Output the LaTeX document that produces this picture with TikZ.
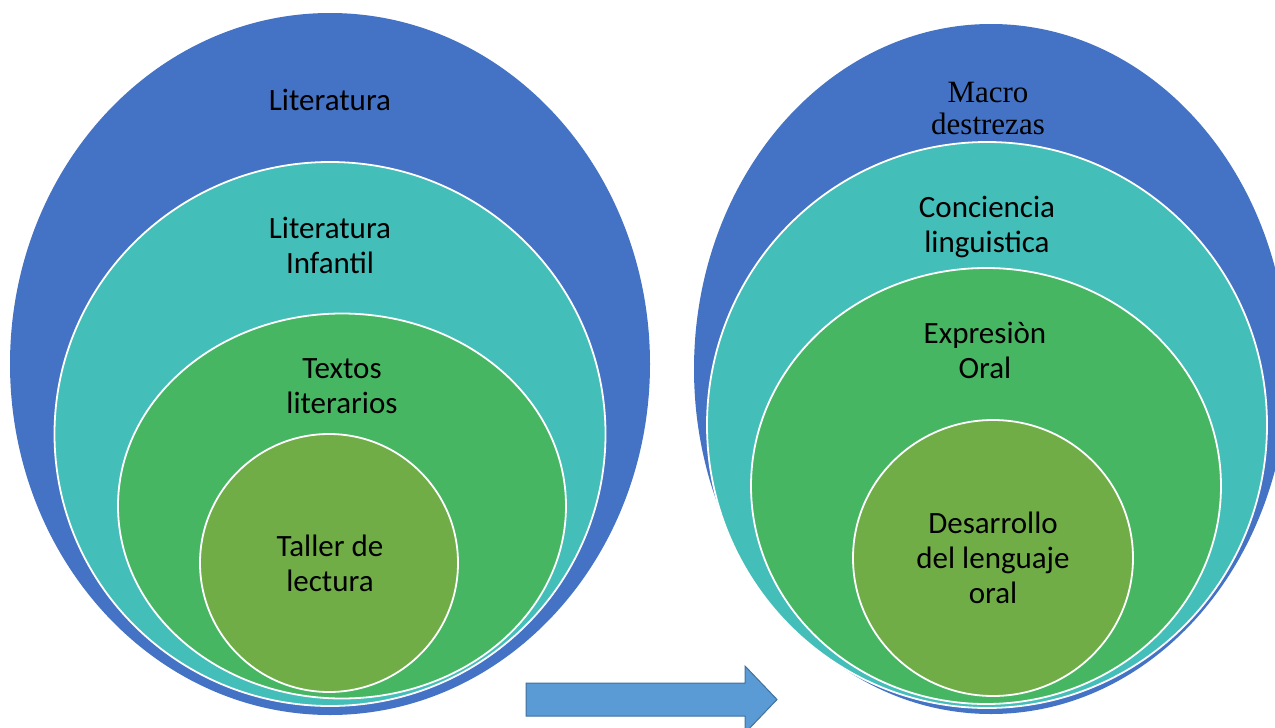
\documentclass[tikz,border=0pt]{standalone}
\usepackage{fontspec}
\setmainfont{Carlito}
\newfontfamily\timesfont{Liberation Serif}
\usetikzlibrary{shapes.geometric}
\definecolor{cblue}{HTML}{4472C4}
\definecolor{cteal}{HTML}{43BEB8}
\definecolor{cgreen}{HTML}{47B663}
\definecolor{clime}{HTML}{70AD47}
\definecolor{carrow}{HTML}{5B9BD5}
\definecolor{carrowb}{HTML}{41719C}
\tikzset{
  ring/.style={ellipse, inner sep=0pt, outer sep=0pt},
  outerring/.style={ring, fill=cblue},
  innerring/.style={ring, draw=white, line width=1.8pt},
  lbl/.style={align=center, font=\fontsize{31}{35}\selectfont, inner sep=0pt},
}
\begin{document}
\begin{tikzpicture}[x=1pt,y=-1pt]
\useasboundingbox[fill=white] (0,0) rectangle (1275,728);
% left set
\node[outerring, minimum width=640pt, minimum height=702pt] (L1) at (330,364) {};
\node[innerring, fill=cteal, minimum width=551pt, minimum height=544pt] (L2) at (330,434) {};
\node[innerring, fill=cgreen, minimum width=448pt, minimum height=385pt] (L3) at (342,506) {};
\node[innerring, fill=clime, minimum width=258pt, minimum height=258pt] (L4) at (329,563) {};
\node[lbl] (tL1) at (330,100) {Literatura};
\node[lbl] (tL2) at (330,245) {Literatura\\Infantil};
\node[lbl] (tL3) at (342,386) {Textos\\literarios};
\node[lbl] (tL4) at (330,563) {Taller de\\lectura};
% right set
\node[outerring, minimum width=594pt, minimum height=690pt] (R1) at (991,369) {};
\node[innerring, fill=cteal, minimum width=560pt, minimum height=566pt] (R2) at (987,425) {};
\node[innerring, fill=cgreen, minimum width=470pt, minimum height=436pt] (R3) at (986,486) {};
\node[innerring, fill=clime, minimum width=280pt, minimum height=276pt] (R4) at (993,558) {};
\node[lbl, font=\timesfont\fontsize{31}{32}\selectfont] (tR1) at (988,109) {Macro\\destrezas};
\node[lbl] (tR2) at (987,227) {Conciencia\\linguistica};
\node[lbl] (tR3) at (985,350) {Expresiòn\\Oral};
\node[lbl] (tR4) at (993,558) {Desarrollo\\del lenguaje\\oral};
% arrow
\draw[fill=carrow, draw=carrowb, line width=1pt, line join=miter]
  (526,683) -- (745,683) -- (745,666) -- (777,699.5) -- (745,733)
  -- (745,716) -- (526,716) -- cycle;
\end{tikzpicture}
\end{document}
